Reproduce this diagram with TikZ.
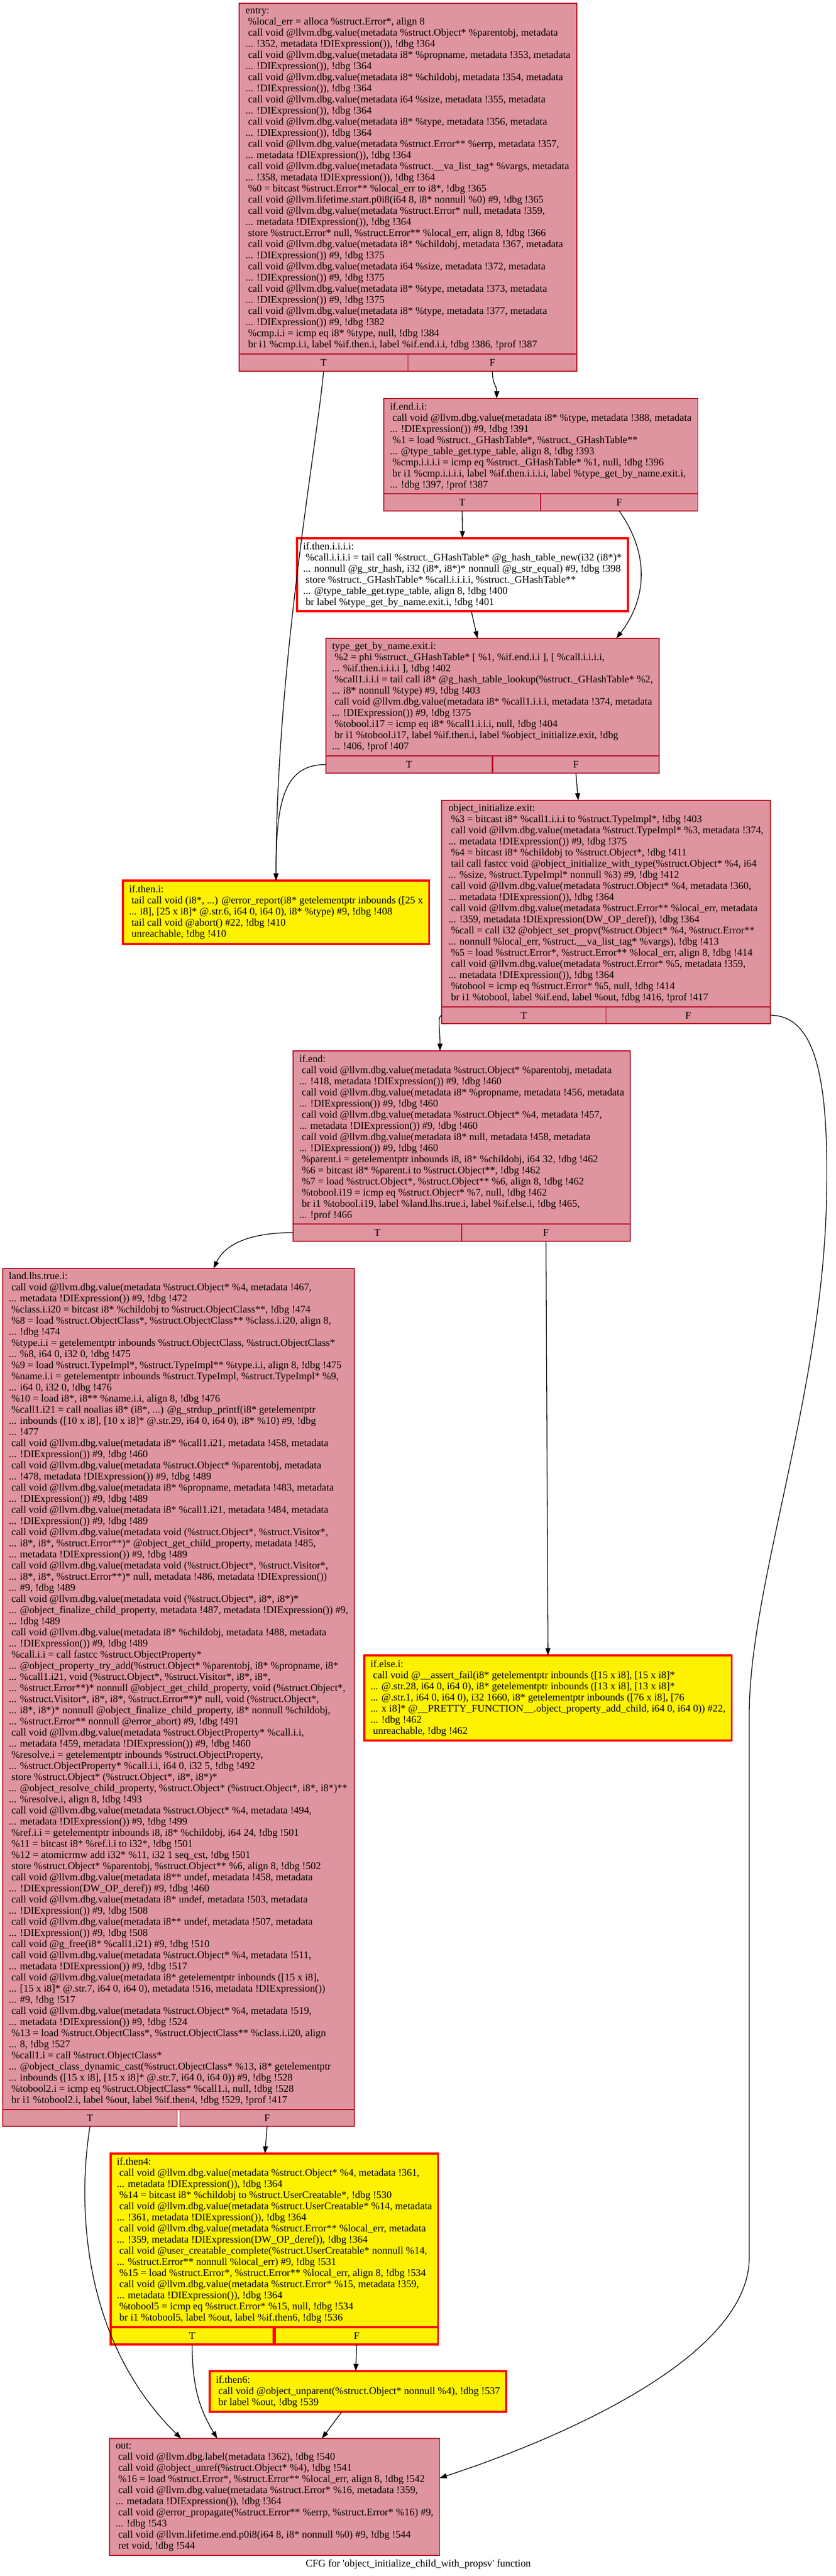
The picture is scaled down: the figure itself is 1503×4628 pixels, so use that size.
\documentclass[tikz,border=0pt]{standalone}
\usepackage{fontspec}
\setmainfont{Liberation Serif}
\usepackage{tikz}
\usetikzlibrary{shapes,arrows.meta,positioning}
\definecolor{cfgred}{RGB}{183,13,40}
\newcommand{\cfgfont}{\fontsize{18.4pt}{20pt}\selectfont}
\newcommand{\isp}{\hspace*{4.6pt}}

\begin{document}
\begin{tikzpicture}[x=1pt,y=-1pt]
\tikzset{font={\cfgfont}}
\tikzset{block/.style={draw=cfgred, line width=1.3pt, fill=cfgred!44, align=left,
    inner xsep=11pt, inner ysep=4pt, outer sep=0pt, anchor=north west},
  hot/.style={block, draw=red, line width=3.5pt, fill=yellow},
  hotwhite/.style={hot, fill=white},
  tfcell/.style={draw=cfgred, line width=1.3pt, fill=cfgred!44, inner sep=0pt,
    outer sep=0pt, minimum height=31pt},
  hottf/.style={tfcell, draw=red, line width=3.5pt, fill=yellow},
  cfgedge/.style={-{Triangle[length=13pt,width=9pt]}, line width=1.3pt}}
\path[use as bounding box, fill=white] (0,0) rectangle (1503,4628);

%entry
\node[block, minimum width=607pt, minimum height=630pt] (entry) at (430,6) {entry:\\
\isp\%local\_err = alloca \%struct.Error*, align 8\\
\isp call void @llvm.dbg.value(metadata \%struct.Object* \%parentobj, metadata\\
... !352, metadata !DIExpression()), !dbg !364\\
\isp call void @llvm.dbg.value(metadata i8* \%propname, metadata !353, metadata\\
... !DIExpression()), !dbg !364\\
\isp call void @llvm.dbg.value(metadata i8* \%childobj, metadata !354, metadata\\
... !DIExpression()), !dbg !364\\
\isp call void @llvm.dbg.value(metadata i64 \%size, metadata !355, metadata\\
... !DIExpression()), !dbg !364\\
\isp call void @llvm.dbg.value(metadata i8* \%type, metadata !356, metadata\\
... !DIExpression()), !dbg !364\\
\isp call void @llvm.dbg.value(metadata \%struct.Error** \%errp, metadata !357,\\
... metadata !DIExpression()), !dbg !364\\
\isp call void @llvm.dbg.value(metadata \%struct.\_\_va\_list\_tag* \%vargs, metadata\\
... !358, metadata !DIExpression()), !dbg !364\\
\isp\%0 = bitcast \%struct.Error** \%local\_err to i8*, !dbg !365\\
\isp call void @llvm.lifetime.start.p0i8(i64 8, i8* nonnull \%0) \#9, !dbg !365\\
\isp call void @llvm.dbg.value(metadata \%struct.Error* null, metadata !359,\\
... metadata !DIExpression()), !dbg !364\\
\isp store \%struct.Error* null, \%struct.Error** \%local\_err, align 8, !dbg !366\\
\isp call void @llvm.dbg.value(metadata i8* \%childobj, metadata !367, metadata\\
... !DIExpression()) \#9, !dbg !375\\
\isp call void @llvm.dbg.value(metadata i64 \%size, metadata !372, metadata\\
... !DIExpression()) \#9, !dbg !375\\
\isp call void @llvm.dbg.value(metadata i8* \%type, metadata !373, metadata\\
... !DIExpression()) \#9, !dbg !375\\
\isp call void @llvm.dbg.value(metadata i8* \%type, metadata !377, metadata\\
... !DIExpression()) \#9, !dbg !382\\
\isp\%cmp.i.i = icmp eq i8* \%type, null, !dbg !384\\
\isp br i1 \%cmp.i.i, label \%if.then.i, label \%if.end.i.i, !dbg !386, !prof !387};
\node[tfcell, minimum width=303.5pt, below right=0pt and 0pt of entry.south west] (entryT) {T};
\node[tfcell, minimum width=303.5pt, below left=0pt and 0pt of entry.south east] (entryF) {F};

%if.end.i.i
\node[block, minimum width=564pt, minimum height=171pt] (ifendii) at (690,716) {if.end.i.i:\\
\isp call void @llvm.dbg.value(metadata i8* \%type, metadata !388, metadata\\
... !DIExpression()) \#9, !dbg !391\\
\isp\%1 = load \%struct.\_GHashTable*, \%struct.\_GHashTable**\\
... @type\_table\_get.type\_table, align 8, !dbg !393\\
\isp\%cmp.i.i.i.i = icmp eq \%struct.\_GHashTable* \%1, null, !dbg !396\\
\isp br i1 \%cmp.i.i.i.i, label \%if.then.i.i.i.i, label \%type\_get\_by\_name.exit.i,\\
... !dbg !397, !prof !387};
\node[tfcell, minimum width=282pt, below right=0pt and 0pt of ifendii.south west] (ifendiiT) {T};
\node[tfcell, minimum width=282pt, below left=0pt and 0pt of ifendii.south east] (ifendiiF) {F};

%if.then.i.i.i.i
\node[hotwhite, minimum width=593pt, minimum height=131pt] (thenhash) at (534,967) {if.then.i.i.i.i:\\
\isp\%call.i.i.i.i = tail call \%struct.\_GHashTable* @g\_hash\_table\_new(i32 (i8*)*\\
... nonnull @g\_str\_hash, i32 (i8*, i8*)* nonnull @g\_str\_equal) \#9, !dbg !398\\
\isp store \%struct.\_GHashTable* \%call.i.i.i.i, \%struct.\_GHashTable**\\
... @type\_table\_get.type\_table, align 8, !dbg !400\\
\isp br label \%type\_get\_by\_name.exit.i, !dbg !401};

%type_get_by_name.exit.i
\node[block, minimum width=598pt, minimum height=211pt] (typeget) at (586,1147) {type\_get\_by\_name.exit.i:\\
\isp\%2 = phi \%struct.\_GHashTable* [ \%1, \%if.end.i.i ], [ \%call.i.i.i.i,\\
... \%if.then.i.i.i.i ], !dbg !402\\
\isp\%call1.i.i.i = tail call i8* @g\_hash\_table\_lookup(\%struct.\_GHashTable* \%2,\\
... i8* nonnull \%type) \#9, !dbg !403\\
\isp call void @llvm.dbg.value(metadata i8* \%call1.i.i.i, metadata !374, metadata\\
... !DIExpression()) \#9, !dbg !375\\
\isp\%tobool.i17 = icmp eq i8* \%call1.i.i.i, null, !dbg !404\\
\isp br i1 \%tobool.i17, label \%if.then.i, label \%object\_initialize.exit, !dbg\\
... !406, !prof !407};
\node[tfcell, minimum width=299pt, below right=0pt and 0pt of typeget.south west] (typegetT) {T};
\node[tfcell, minimum width=299pt, below left=0pt and 0pt of typeget.south east] (typegetF) {F};

%if.then.i
\node[hot, minimum width=549pt, minimum height=114pt] (ifthen) at (221,1582) {if.then.i:\\
\isp tail call void (i8*, ...) @error\_report(i8* getelementptr inbounds ([25 x\\
... i8], [25 x i8]* @.str.6, i64 0, i64 0), i8* \%type) \#9, !dbg !408\\
\isp tail call void @abort() \#22, !dbg !410\\
\isp unreachable, !dbg !410};

%object_initialize.exit
\node[block, minimum width=591pt, minimum height=371pt] (objinit) at (794,1438) {object\_initialize.exit:\\
\isp\%3 = bitcast i8* \%call1.i.i.i to \%struct.TypeImpl*, !dbg !403\\
\isp call void @llvm.dbg.value(metadata \%struct.TypeImpl* \%3, metadata !374,\\
... metadata !DIExpression()) \#9, !dbg !375\\
\isp\%4 = bitcast i8* \%childobj to \%struct.Object*, !dbg !411\\
\isp tail call fastcc void @object\_initialize\_with\_type(\%struct.Object* \%4, i64\\
... \%size, \%struct.TypeImpl* nonnull \%3) \#9, !dbg !412\\
\isp call void @llvm.dbg.value(metadata \%struct.Object* \%4, metadata !360,\\
... metadata !DIExpression()), !dbg !364\\
\isp call void @llvm.dbg.value(metadata \%struct.Error** \%local\_err, metadata\\
... !359, metadata !DIExpression(DW\_OP\_deref)), !dbg !364\\
\isp\%call = call i32 @object\_set\_propv(\%struct.Object* \%4, \%struct.Error**\\
... nonnull \%local\_err, \%struct.\_\_va\_list\_tag* \%vargs), !dbg !413\\
\isp\%5 = load \%struct.Error*, \%struct.Error** \%local\_err, align 8, !dbg !414\\
\isp call void @llvm.dbg.value(metadata \%struct.Error* \%5, metadata !359,\\
... metadata !DIExpression()), !dbg !364\\
\isp\%tobool = icmp eq \%struct.Error* \%5, null, !dbg !414\\
\isp br i1 \%tobool, label \%if.end, label \%out, !dbg !416, !prof !417};
\node[tfcell, minimum width=295.5pt, minimum height=30pt, below right=0pt and 0pt of objinit.south west] (objinitT) {T};
\node[tfcell, minimum width=295.5pt, minimum height=30pt, below left=0pt and 0pt of objinit.south east] (objinitF) {F};

%if.end
\node[block, minimum width=606pt, minimum height=311pt] (ifend) at (527,1888) {if.end:\\
\isp call void @llvm.dbg.value(metadata \%struct.Object* \%parentobj, metadata\\
... !418, metadata !DIExpression()) \#9, !dbg !460\\
\isp call void @llvm.dbg.value(metadata i8* \%propname, metadata !456, metadata\\
... !DIExpression()) \#9, !dbg !460\\
\isp call void @llvm.dbg.value(metadata \%struct.Object* \%4, metadata !457,\\
... metadata !DIExpression()) \#9, !dbg !460\\
\isp call void @llvm.dbg.value(metadata i8* null, metadata !458, metadata\\
... !DIExpression()) \#9, !dbg !460\\
\isp\%parent.i = getelementptr inbounds i8, i8* \%childobj, i64 32, !dbg !462\\
\isp\%6 = bitcast i8* \%parent.i to \%struct.Object**, !dbg !462\\
\isp\%7 = load \%struct.Object*, \%struct.Object** \%6, align 8, !dbg !462\\
\isp\%tobool.i19 = icmp eq \%struct.Object* \%7, null, !dbg !462\\
\isp br i1 \%tobool.i19, label \%land.lhs.true.i, label \%if.else.i, !dbg !465,\\
... !prof !466};
\node[tfcell, minimum width=303pt, below right=0pt and 0pt of ifend.south west] (ifendT) {T};
\node[tfcell, minimum width=303pt, below left=0pt and 0pt of ifend.south east] (ifendF) {F};

%land.lhs.true.i
\node[block, minimum width=627pt, minimum height=1511pt] (land) at (5,2279) {land.lhs.true.i:\\
\isp call void @llvm.dbg.value(metadata \%struct.Object* \%4, metadata !467,\\
... metadata !DIExpression()) \#9, !dbg !472\\
\isp\%class.i.i20 = bitcast i8* \%childobj to \%struct.ObjectClass**, !dbg !474\\
\isp\%8 = load \%struct.ObjectClass*, \%struct.ObjectClass** \%class.i.i20, align 8,\\
... !dbg !474\\
\isp\%type.i.i = getelementptr inbounds \%struct.ObjectClass, \%struct.ObjectClass*\\
... \%8, i64 0, i32 0, !dbg !475\\
\isp\%9 = load \%struct.TypeImpl*, \%struct.TypeImpl** \%type.i.i, align 8, !dbg !475\\
\isp\%name.i.i = getelementptr inbounds \%struct.TypeImpl, \%struct.TypeImpl* \%9,\\
... i64 0, i32 0, !dbg !476\\
\isp\%10 = load i8*, i8** \%name.i.i, align 8, !dbg !476\\
\isp\%call1.i21 = call noalias i8* (i8*, ...) @g\_strdup\_printf(i8* getelementptr\\
... inbounds ([10 x i8], [10 x i8]* @.str.29, i64 0, i64 0), i8* \%10) \#9, !dbg\\
... !477\\
\isp call void @llvm.dbg.value(metadata i8* \%call1.i21, metadata !458, metadata\\
... !DIExpression()) \#9, !dbg !460\\
\isp call void @llvm.dbg.value(metadata \%struct.Object* \%parentobj, metadata\\
... !478, metadata !DIExpression()) \#9, !dbg !489\\
\isp call void @llvm.dbg.value(metadata i8* \%propname, metadata !483, metadata\\
... !DIExpression()) \#9, !dbg !489\\
\isp call void @llvm.dbg.value(metadata i8* \%call1.i21, metadata !484, metadata\\
... !DIExpression()) \#9, !dbg !489\\
\isp call void @llvm.dbg.value(metadata void (\%struct.Object*, \%struct.Visitor*,\\
... i8*, i8*, \%struct.Error**)* @object\_get\_child\_property, metadata !485,\\
... metadata !DIExpression()) \#9, !dbg !489\\
\isp call void @llvm.dbg.value(metadata void (\%struct.Object*, \%struct.Visitor*,\\
... i8*, i8*, \%struct.Error**)* null, metadata !486, metadata !DIExpression())\\
... \#9, !dbg !489\\
\isp call void @llvm.dbg.value(metadata void (\%struct.Object*, i8*, i8*)*\\
... @object\_finalize\_child\_property, metadata !487, metadata !DIExpression()) \#9,\\
... !dbg !489\\
\isp call void @llvm.dbg.value(metadata i8* \%childobj, metadata !488, metadata\\
... !DIExpression()) \#9, !dbg !489\\
\isp\%call.i.i = call fastcc \%struct.ObjectProperty*\\
... @object\_property\_try\_add(\%struct.Object* \%parentobj, i8* \%propname, i8*\\
... \%call1.i21, void (\%struct.Object*, \%struct.Visitor*, i8*, i8*,\\
... \%struct.Error**)* nonnull @object\_get\_child\_property, void (\%struct.Object*,\\
... \%struct.Visitor*, i8*, i8*, \%struct.Error**)* null, void (\%struct.Object*,\\
... i8*, i8*)* nonnull @object\_finalize\_child\_property, i8* nonnull \%childobj,\\
... \%struct.Error** nonnull @error\_abort) \#9, !dbg !491\\
\isp call void @llvm.dbg.value(metadata \%struct.ObjectProperty* \%call.i.i,\\
... metadata !459, metadata !DIExpression()) \#9, !dbg !460\\
\isp\%resolve.i = getelementptr inbounds \%struct.ObjectProperty,\\
... \%struct.ObjectProperty* \%call.i.i, i64 0, i32 5, !dbg !492\\
\isp store \%struct.Object* (\%struct.Object*, i8*, i8*)*\\
... @object\_resolve\_child\_property, \%struct.Object* (\%struct.Object*, i8*, i8*)**\\
... \%resolve.i, align 8, !dbg !493\\
\isp call void @llvm.dbg.value(metadata \%struct.Object* \%4, metadata !494,\\
... metadata !DIExpression()) \#9, !dbg !499\\
\isp\%ref.i.i = getelementptr inbounds i8, i8* \%childobj, i64 24, !dbg !501\\
\isp\%11 = bitcast i8* \%ref.i.i to i32*, !dbg !501\\
\isp\%12 = atomicrmw add i32* \%11, i32 1 seq\_cst, !dbg !501\\
\isp store \%struct.Object* \%parentobj, \%struct.Object** \%6, align 8, !dbg !502\\
\isp call void @llvm.dbg.value(metadata i8** undef, metadata !458, metadata\\
... !DIExpression(DW\_OP\_deref)) \#9, !dbg !460\\
\isp call void @llvm.dbg.value(metadata i8* undef, metadata !503, metadata\\
... !DIExpression()) \#9, !dbg !508\\
\isp call void @llvm.dbg.value(metadata i8** undef, metadata !507, metadata\\
... !DIExpression()) \#9, !dbg !508\\
\isp call void @g\_free(i8* \%call1.i21) \#9, !dbg !510\\
\isp call void @llvm.dbg.value(metadata \%struct.Object* \%4, metadata !511,\\
... metadata !DIExpression()) \#9, !dbg !517\\
\isp call void @llvm.dbg.value(metadata i8* getelementptr inbounds ([15 x i8],\\
... [15 x i8]* @.str.7, i64 0, i64 0), metadata !516, metadata !DIExpression())\\
... \#9, !dbg !517\\
\isp call void @llvm.dbg.value(metadata \%struct.Object* \%4, metadata !519,\\
... metadata !DIExpression()) \#9, !dbg !524\\
\isp\%13 = load \%struct.ObjectClass*, \%struct.ObjectClass** \%class.i.i20, align\\
... 8, !dbg !527\\
\isp\%call1.i = call \%struct.ObjectClass*\\
... @object\_class\_dynamic\_cast(\%struct.ObjectClass* \%13, i8* getelementptr\\
... inbounds ([15 x i8], [15 x i8]* @.str.7, i64 0, i64 0)) \#9, !dbg !528\\
\isp\%tobool2.i = icmp eq \%struct.ObjectClass* \%call1.i, null, !dbg !528\\
\isp br i1 \%tobool2.i, label \%out, label \%if.then4, !dbg !529, !prof !417};
\node[tfcell, minimum width=313.5pt, minimum height=30pt, below right=0pt and 0pt of land.south west] (landT) {T};
\node[tfcell, minimum width=313.5pt, minimum height=30pt, below left=0pt and 0pt of land.south east] (landF) {F};

%if.else.i
\node[hot, minimum width=655pt, minimum height=153pt] (ifelse) at (655,2974) {if.else.i:\\
\isp call void @\_\_assert\_fail(i8* getelementptr inbounds ([15 x i8], [15 x i8]*\\
... @.str.28, i64 0, i64 0), i8* getelementptr inbounds ([13 x i8], [13 x i8]*\\
... @.str.1, i64 0, i64 0), i32 1660, i8* getelementptr inbounds ([76 x i8], [76\\
... x i8]* @\_\_PRETTY\_FUNCTION\_\_.object\_property\_add\_child, i64 0, i64 0)) \#22,\\
... !dbg !462\\
\isp unreachable, !dbg !462};

%if.then4
\node[hot, minimum width=586pt, minimum height=312pt] (ifthenfour) at (199,3869) {if.then4:\\
\isp call void @llvm.dbg.value(metadata \%struct.Object* \%4, metadata !361,\\
... metadata !DIExpression()), !dbg !364\\
\isp\%14 = bitcast i8* \%childobj to \%struct.UserCreatable*, !dbg !530\\
\isp call void @llvm.dbg.value(metadata \%struct.UserCreatable* \%14, metadata\\
... !361, metadata !DIExpression()), !dbg !364\\
\isp call void @llvm.dbg.value(metadata \%struct.Error** \%local\_err, metadata\\
... !359, metadata !DIExpression(DW\_OP\_deref)), !dbg !364\\
\isp call void @user\_creatable\_complete(\%struct.UserCreatable* nonnull \%14,\\
... \%struct.Error** nonnull \%local\_err) \#9, !dbg !531\\
\isp\%15 = load \%struct.Error*, \%struct.Error** \%local\_err, align 8, !dbg !534\\
\isp call void @llvm.dbg.value(metadata \%struct.Error* \%15, metadata !359,\\
... metadata !DIExpression()), !dbg !364\\
\isp\%tobool5 = icmp eq \%struct.Error* \%15, null, !dbg !534\\
\isp br i1 \%tobool5, label \%out, label \%if.then6, !dbg !536};
\node[hottf, minimum width=293pt, below right=0pt and 0pt of ifthenfour.south west] (ifthenfourT) {T};
\node[hottf, minimum width=293pt, below left=0pt and 0pt of ifthenfour.south east] (ifthenfourF) {F};

%if.then6
\node[hot, minimum width=531pt, minimum height=73pt] (ifthensix) at (377,4260) {if.then6:\\
\isp call void @object\_unparent(\%struct.Object* nonnull \%4), !dbg !537\\
\isp br label \%out, !dbg !539};

%out
\node[block, minimum width=590pt, minimum height=210pt] (out) at (197,4381) {out:\\
\isp call void @llvm.dbg.label(metadata !362), !dbg !540\\
\isp call void @object\_unref(\%struct.Object* \%4), !dbg !541\\
\isp\%16 = load \%struct.Error*, \%struct.Error** \%local\_err, align 8, !dbg !542\\
\isp call void @llvm.dbg.value(metadata \%struct.Error* \%16, metadata !359,\\
... metadata !DIExpression()), !dbg !364\\
\isp call void @error\_propagate(\%struct.Error** \%errp, \%struct.Error* \%16) \#9,\\
... !dbg !543\\
\isp call void @llvm.lifetime.end.p0i8(i64 8, i8* nonnull \%0) \#9, !dbg !544\\
\isp ret void, !dbg !544};

\node (cfgtitle) at (752,4607) {CFG for \textquotesingle object\_initialize\_child\_with\_propsv\textquotesingle{} function};

%edges
\draw[cfgedge] (entryT.south) .. controls +(-12,133) and +(0,-382) .. (ifthen.north);
\draw[cfgedge] (entryF.south) .. controls +(0,25) and +(0,-25) .. ([xshift=203pt]ifendii.north west);
\draw[cfgedge] (ifendiiT.south) -- (thenhash.north);
\draw[cfgedge] (ifendiiF.south) .. controls +(58,82) and +(52,-67) .. ([xshift=522pt]typeget.north west);
\draw[cfgedge] ([xshift=16pt]thenhash.south) -- ([xshift=-27pt]typeget.north);
\draw[cfgedge] (typegetT.west) .. controls +(-76,0) and +(0,-142) .. (ifthen.north);
\draw[cfgedge] (typegetF.south) -- ([xshift=-50pt]objinit.north);
\draw[cfgedge] (objinitT.west) .. controls +(-8,2) and +(0,-40) .. ([xshift=-39pt]ifend.north);
\draw[cfgedge] (objinitF.east) .. controls (1470,1824) and (1490,1950) .. (1486,2150)
  .. controls (1480,2500) and (1347,2850) .. (1347,3080) -- (1347,4056)
  .. controls (1347,4250) and (950,4400) .. ([yshift=34pt]out.east);
\draw[cfgedge] (ifendT.west) .. controls +(-87,0) and +(18,-39) .. ([xshift=63pt]land.north);
\draw[cfgedge] (ifendF.south) -- (ifelse.north);
\draw[cfgedge] (landT.south) .. controls +(-21,130) and +(-184,-181) .. ([xshift=-168pt]out.north);
\draw[cfgedge] (landF.south) -- ([xshift=-17pt]ifthenfour.north);
\draw[cfgedge] (ifthenfourT.south) .. controls +(0,80) and +(-30,-50) .. ([xshift=-103pt]out.north);
\draw[cfgedge] (ifthenfourF.south) -- ([xshift=-4pt]ifthensix.north);
\draw[cfgedge] ([xshift=-29pt]ifthensix.south) -- ([xshift=85pt]out.north);

\end{tikzpicture}
\end{document}
